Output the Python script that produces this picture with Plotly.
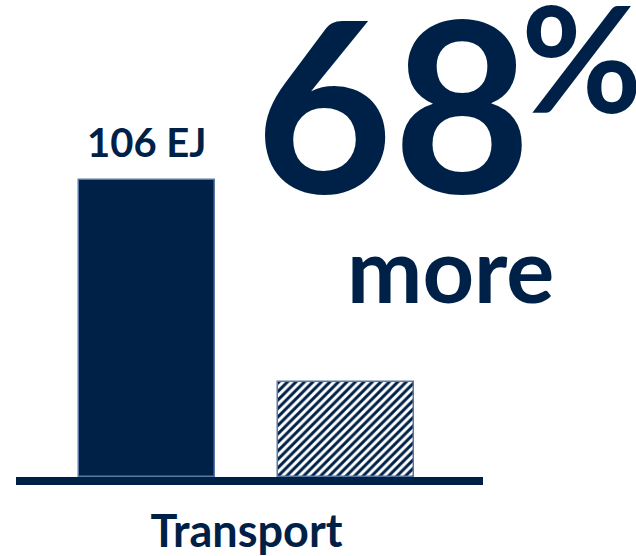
import plotly.graph_objects as go

# ---- data ----
categories = ["Transport"]
series_names = ["Reference", "Comparison"]
bar_positions = [0, 1]
bar_values = [106, 34]
bar_labels = ["106 EJ", ""]
headline_number = "68"
headline_unit = "%"
headline_word = "more"

NAVY = "#002147"
EDGE = "#5a77a6"
FONT = "Lato"

W, H = 636, 556
ML, MR, MT, MB = 16, 153, 0, 79
PW, PH = W - ML - MR, H - MT - MB


def px(x):
    return (x - ML) / PW


def py(y):
    return (H - MB - y) / PH


fig = go.Figure()
fig.add_trace(go.Bar(
    x=[bar_positions[0]], y=[bar_values[0]], width=0.685,
    marker=dict(color=NAVY, line=dict(color=EDGE, width=1.5)),
    name=series_names[0], showlegend=False, hoverinfo="skip",
))
fig.add_trace(go.Bar(
    x=[bar_positions[1]], y=[bar_values[1]], width=0.685,
    marker=dict(color="white", line=dict(color=EDGE, width=1.5),
                pattern=dict(shape="/", fgcolor=NAVY, fgopacity=1, bgcolor="white",
                             size=6, solidity=0.5)),
    name=series_names[1], showlegend=False, hoverinfo="skip",
))

for xv, yv, lab in zip(bar_positions, bar_values, bar_labels):
    if lab:
        fig.add_annotation(text=lab, x=xv, y=yv, xref="x", yref="y",
                           xanchor="center", yanchor="bottom", yshift=12,
                           showarrow=False,
                           font=dict(family=FONT, size=40, color=NAVY, weight="bold"))

fig.add_annotation(text=headline_number, xref="paper", yref="paper",
                   x=px(393), y=py(101), xanchor="center", yanchor="middle",
                   showarrow=False, font=dict(family=FONT, size=238, color=NAVY, weight="bold"))
fig.add_annotation(text=headline_unit, xref="paper", yref="paper",
                   x=px(581), y=py(56), xanchor="center", yanchor="middle",
                   showarrow=False, font=dict(family=FONT, size=148, color=NAVY, weight="bold"))
fig.add_annotation(text=headline_word, xref="paper", yref="paper",
                   x=px(450), y=py(268), xanchor="center", yanchor="middle",
                   showarrow=False, font=dict(family=FONT, size=90, color=NAVY, weight="bold"))

fig.update_layout(
    width=W, height=H, margin=dict(l=ML, r=MR, t=MT, b=MB),
    paper_bgcolor="white", plot_bgcolor="white",
    barmode="overlay", bargap=0,
    xaxis=dict(range=[-131 / 199, (PW - 131) / 199], showgrid=False, zeroline=False,
               showline=True, linecolor=NAVY, linewidth=8,
               tickmode="array", tickvals=[0.5], ticktext=categories, ticks="",
               ticklabelstandoff=8,
               tickfont=dict(family=FONT, size=45, color=NAVY, weight="bold"),
               fixedrange=True),
    yaxis=dict(range=[0, 106 * PH / 297], visible=False, fixedrange=True),
)

fig.write_html("out.html")
